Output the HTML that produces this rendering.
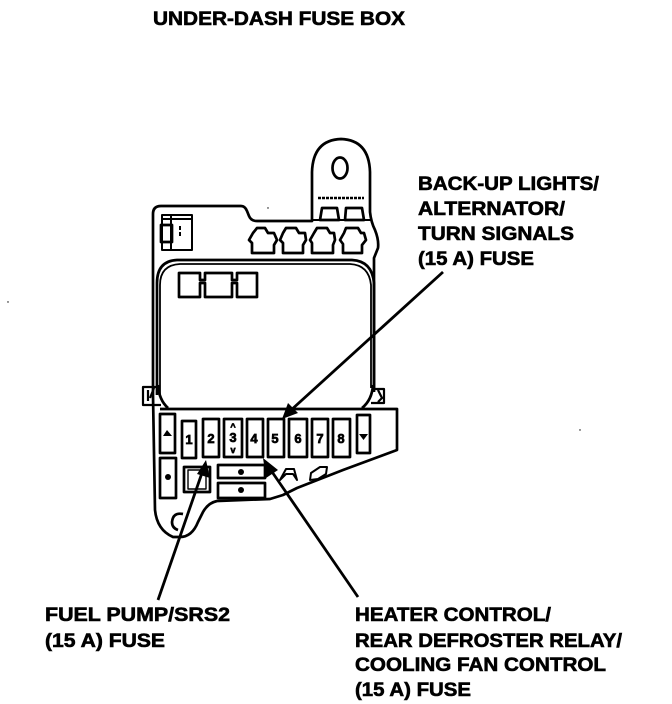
<!DOCTYPE html>
<html>
<head>
<meta charset="utf-8">
<style>
html,body{margin:0;padding:0;background:#fff;}
svg{display:block;}
text{font-family:"Liberation Sans",sans-serif;font-weight:bold;fill:#000;stroke:#000;stroke-width:.6px;font-size:19px;}
.n{font-size:13px;stroke-width:.7px;}
</style>
</head>
<body>
<svg width="672" height="704" viewBox="0 0 672 704" xmlns="http://www.w3.org/2000/svg">
<rect width="672" height="704" fill="#fff"/>
<g fill="none" stroke="#000" stroke-width="2.7" stroke-linejoin="round">
  <!-- outer body -->
  <path d="M153 395V214Q153 206 161 206H241Q245 206 247 211L249 216Q251 221 257 221H312V172Q313 140 341 139Q369 140 370 172V212Q371 222 375 230Q379 240 378 248L374 258V392"/>
  <!-- tab -->
  <ellipse cx="340" cy="168" rx="7.500" ry="10.500"/>
  <path d="M312 220H372" stroke-width="2"/>
  <path d="M318 198H364" stroke-width="2.600" stroke-dasharray="3 1"/>
  <path d="M320 220L322 208H337L339 220Z"/>
  <path d="M345 220L346 208H362L364 220Z"/>
  <!-- connector top left -->
  <rect x="162" y="215" width="30" height="35" stroke-width="2"/>
  <rect x="161" y="225" width="11" height="17"/>
  <path d="M171 215V250M162 219H192" stroke-width="2"/>
  <path d="M180 226V238" stroke-width="2" stroke-dasharray="4 2"/>
  <!-- top fuses -->
  <path d="M253 233L257 228H265L268 233H274L277 240L274 245V253H252V243L249 240Z"/>
  <path d="M283 233L286 228H296L299 233H305L306 240L303 245V253H283V243L280 240Z"/>
  <path d="M314 233L317 228H327L330 233H334L335 240L333 245V253H312V243L310 240Z"/>
  <path d="M344 233L346 228H358L361 233H364L366 240L362 245V253H343V244L340 240Z"/>
  <!-- window -->
  <path d="M157 395V283Q157 261 177 260H352Q372 261 374 283V390"/>
  <path d="M160 395V285Q160 265 180 264H350Q369 265 371 285V388" stroke-width="1.800"/>
  <path d="M158 385Q159 400 168 408"/>
  <path d="M373 385Q372 400 362 408"/>
  <!-- relay block -->
  <path d="M179 273H200V280H205V273H232V280H237V273H257V297H237V283H232V297H205V283H200V297H179Z"/>
  <!-- side clips -->
  <path d="M160 387H143V405H161M148 390V401M154 388L150 398" stroke-width="2.200"/>
  <path d="M372 389H384V403H371M378 390L382 398L378 402" stroke-width="2.200"/>
  <!-- lower body -->
  <path d="M160 409H397V450L343 470L297 488L283 495L270 499L217 501Q208 503 203 512L198 522Q192 537 180 537H173Q157 530 155 510L153 395"/>
  <path d="M183 514Q173 512 172 522Q172 528 178 530"/>
  <!-- fuses -->
  <rect x="160" y="414" width="15" height="39"/>
  <rect x="182" y="421" width="14" height="37"/>
  <rect x="203" y="419" width="16" height="38"/>
  <rect x="224" y="419" width="18" height="38"/>
  <rect x="247" y="419" width="16" height="38"/>
  <rect x="268" y="419" width="16" height="38"/>
  <rect x="289" y="419" width="18" height="38"/>
  <rect x="312" y="419" width="16" height="38"/>
  <rect x="333" y="419" width="17" height="38"/>
  <rect x="357" y="415" width="13" height="38"/>
  <rect x="160" y="458" width="16" height="40"/>
  <rect x="184" y="467" width="26" height="25"/>
  <rect x="188" y="470" width="18" height="19" stroke-width="1.400"/>
  <rect x="218" y="465" width="47" height="13"/>
  <rect x="218" y="483" width="47" height="15"/>
  <!-- small clips -->
  <path d="M280 480L286 469H294L297 480L293 474H286Z" stroke-width="2"/>
  <path d="M310 480L311 473L320 467H327L326 474L318 479Z" stroke-width="2"/>
</g>
<!-- dots -->
<g fill="#000">
  <path d="M163 436L167 430L172 436Z"/>
  <circle cx="168" cy="477" r="3"/>
  <path d="M359 434H368L363.500 440Z"/>
  <circle cx="241" cy="472" r="3"/>
  <circle cx="241" cy="490" r="3"/>
  <circle cx="8" cy="302" r=".7"/>
  <circle cx="580" cy="430" r=".7"/>
  <circle cx="268" cy="208" r=".7"/>
</g>
<!-- fuse numbers -->
<text class="n" x="189" y="444" text-anchor="middle">1</text>
<text class="n" x="211" y="443" text-anchor="middle">2</text>
<text class="n" x="233" y="442" text-anchor="middle">3</text>
<text class="n" x="233" y="430" text-anchor="middle" style="font-size:9px">^</text>
<text class="n" x="233" y="453" text-anchor="middle" style="font-size:9px">v</text>
<text class="n" x="254" y="443" text-anchor="middle">4</text>
<text class="n" x="275" y="443" text-anchor="middle">5</text>
<text class="n" x="298" y="443" text-anchor="middle">6</text>
<text class="n" x="320" y="443" text-anchor="middle">7</text>
<text class="n" x="341" y="443" text-anchor="middle">8</text>
<!-- leaders -->
<g stroke="#000" stroke-width="2.800" fill="#000">
  <line x1="443" y1="272" x2="290" y2="411"/>
  <line x1="158" y1="600" x2="203" y2="470"/>
  <line x1="358" y1="597" x2="268" y2="466"/>
</g>
<g fill="#000">
  <path d="M282 419L288 403L298 413Z"/>
  <path d="M206 460L210 478L197 474Z"/>
  <path d="M263 458L278 470L266 478Z"/>
</g>
<!-- labels -->
<text x="153" y="25" textLength="252" lengthAdjust="spacingAndGlyphs">UNDER-DASH FUSE BOX</text>
<text x="418" y="190" textLength="181" lengthAdjust="spacingAndGlyphs">BACK-UP LIGHTS/</text>
<text x="418" y="215" textLength="147" lengthAdjust="spacingAndGlyphs">ALTERNATOR/</text>
<text x="418" y="240" textLength="156" lengthAdjust="spacingAndGlyphs">TURN SIGNALS</text>
<text x="418" y="265" textLength="116" lengthAdjust="spacingAndGlyphs">(15 A) FUSE</text>
<text x="45" y="621" textLength="185" lengthAdjust="spacingAndGlyphs">FUEL PUMP/SRS2</text>
<text x="45" y="647" textLength="120" lengthAdjust="spacingAndGlyphs">(15 A) FUSE</text>
<text x="355" y="621" textLength="196" lengthAdjust="spacingAndGlyphs">HEATER CONTROL/</text>
<text x="355" y="647" textLength="267" lengthAdjust="spacingAndGlyphs">REAR DEFROSTER RELAY/</text>
<text x="355" y="671" textLength="251" lengthAdjust="spacingAndGlyphs">COOLING FAN CONTROL</text>
<text x="355" y="696" textLength="116" lengthAdjust="spacingAndGlyphs">(15 A) FUSE</text>
</svg>
</body>
</html>
